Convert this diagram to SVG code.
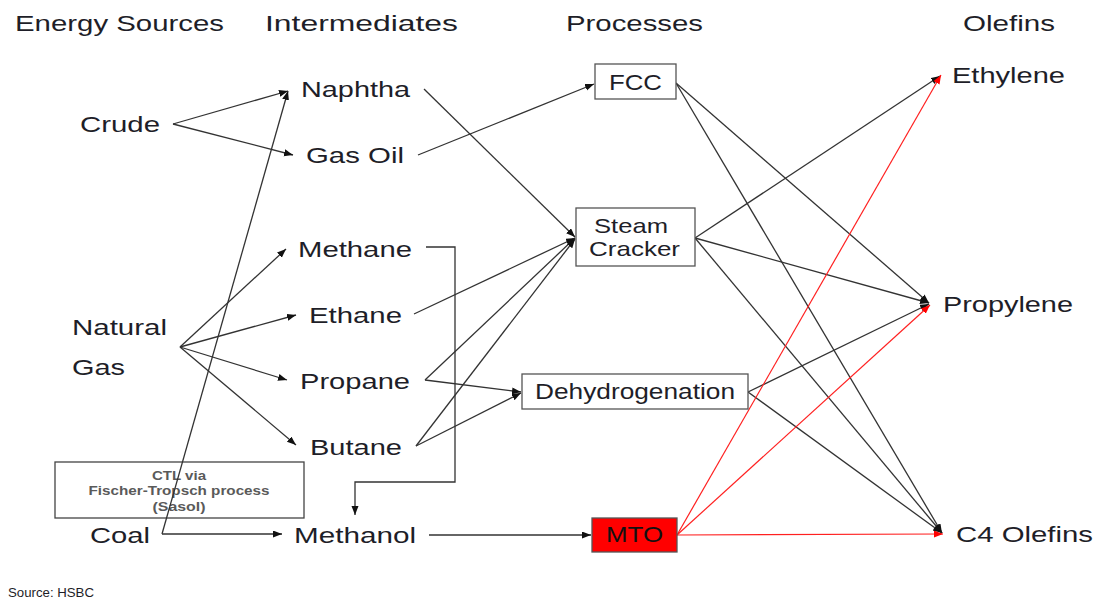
<svg xmlns="http://www.w3.org/2000/svg" width="1119" height="600" viewBox="0 0 1119 600">
<defs>
<marker id="ab" markerUnits="userSpaceOnUse" markerWidth="10" markerHeight="8" refX="9" refY="3.5" orient="auto"><path d="M0,0 L9,3.5 L0,7 z" fill="#111"/></marker>
<marker id="ar" markerUnits="userSpaceOnUse" markerWidth="10" markerHeight="8" refX="9" refY="3.5" orient="auto"><path d="M0,0 L9,3.5 L0,7 z" fill="#ff0000"/></marker>
<style>
text{font-family:"Liberation Sans",Arial,sans-serif;fill:#1e1e28;font-size:22px}
.h{font-size:22px}
.ctl{font-size:13px;font-weight:bold;fill:#5a5a5a}
.src{font-size:13px}
.box{fill:#fff;stroke:#555;stroke-width:1.3}
.mto{fill:#ff0000;stroke:#555;stroke-width:1.3}
.c{fill:none;stroke:#333;stroke-width:1.3;marker-end:url(#ab)}
.r{fill:none;stroke:#ff2020;stroke-width:1.2;marker-end:url(#ar)}
</style>
</defs>
<rect width="1119" height="600" fill="#fff"/>

<g id="headers">
<text class="h" x="15" y="31" textLength="209" lengthAdjust="spacingAndGlyphs">Energy Sources</text>
<text class="h" x="265" y="31" textLength="193" lengthAdjust="spacingAndGlyphs">Intermediates</text>
<text class="h" x="566" y="31" textLength="137" lengthAdjust="spacingAndGlyphs">Processes</text>
<text class="h" x="963" y="31" textLength="92" lengthAdjust="spacingAndGlyphs">Olefins</text>
</g>

<g id="ctl">
<rect x="55" y="462" width="249" height="56" fill="none" stroke="#444" stroke-width="1.3"/>
<text class="ctl" x="179" y="480" text-anchor="middle" textLength="54" lengthAdjust="spacingAndGlyphs">CTL via</text>
<text class="ctl" x="179" y="495" text-anchor="middle" textLength="181" lengthAdjust="spacingAndGlyphs">Fischer-Tropsch process</text>
<text class="ctl" x="179" y="511" text-anchor="middle" textLength="53" lengthAdjust="spacingAndGlyphs">(Sasol)</text>
</g>

<g id="connectors">
<polyline class="c" points="173,124 288,91"/>
<polyline class="c" points="173,124 293,155"/>
<polyline class="c" points="162,534 288,91"/>
<polyline class="c" points="162,534 282,534"/>
<polyline class="c" points="180,347 286,249"/>
<polyline class="c" points="180,347 296,315"/>
<polyline class="c" points="180,347 287,380"/>
<polyline class="c" points="180,347 296,445"/>
<polyline class="c" points="426,247 455,247 455,482 355,482 355,515"/>
<polyline class="c" points="418,155 594,84"/>
<polyline class="c" points="424,89 575,237"/>
<polyline class="c" points="414,314 575,238"/>
<polyline class="c" points="425,380 575,238"/>
<polyline class="c" points="425,380 521,392"/>
<polyline class="c" points="416,446 575,239"/>
<polyline class="c" points="416,446 521,393"/>
<polyline class="c" points="429,535 591,535"/>
<polyline class="c" points="676,83 929,303"/>
<polyline class="c" points="676,83 942,533"/>
<polyline class="c" points="695,238 940,76"/>
<polyline class="c" points="695,238 929,303"/>
<polyline class="c" points="695,238 942,533"/>
<polyline class="c" points="748,392 929,304"/>
<polyline class="c" points="748,392 942,533"/>
<polyline class="r" points="677,535 941,75"/>
<polyline class="r" points="677,535 930,305"/>
<polyline class="r" points="677,535 943,534"/>
</g>

<g id="crude"><text x="80" y="132" textLength="80" lengthAdjust="spacingAndGlyphs">Crude</text></g>
<g id="natural-gas">
<text x="72" y="335" textLength="95" lengthAdjust="spacingAndGlyphs">Natural</text>
<text x="72" y="375" textLength="53" lengthAdjust="spacingAndGlyphs">Gas</text>
</g>
<g id="coal"><text x="90" y="543" textLength="60" lengthAdjust="spacingAndGlyphs">Coal</text></g>

<g id="naphtha"><text x="301" y="97" textLength="109" lengthAdjust="spacingAndGlyphs">Naphtha</text></g>
<g id="gas-oil"><text x="306" y="163" textLength="98" lengthAdjust="spacingAndGlyphs">Gas Oil</text></g>
<g id="methane"><text x="298" y="257" textLength="114" lengthAdjust="spacingAndGlyphs">Methane</text></g>
<g id="ethane"><text x="309" y="323" textLength="93" lengthAdjust="spacingAndGlyphs">Ethane</text></g>
<g id="propane"><text x="300" y="389" textLength="110" lengthAdjust="spacingAndGlyphs">Propane</text></g>
<g id="butane"><text x="310" y="455" textLength="92" lengthAdjust="spacingAndGlyphs">Butane</text></g>
<g id="methanol"><text x="294" y="543" textLength="122" lengthAdjust="spacingAndGlyphs">Methanol</text></g>

<g id="fcc">
<rect class="box" x="595" y="64" width="81" height="35"/>
<text x="609" y="90" textLength="53" lengthAdjust="spacingAndGlyphs">FCC</text>
</g>
<g id="steam-cracker">
<rect class="box" x="576" y="208" width="119" height="58"/>
<text x="594" y="233" textLength="74" lengthAdjust="spacingAndGlyphs" style="font-size:21px">Steam</text>
<text x="589" y="256" textLength="91" lengthAdjust="spacingAndGlyphs" style="font-size:21px">Cracker</text>
</g>
<g id="dehydrogenation">
<rect class="box" x="522" y="374" width="226" height="35"/>
<text x="535" y="399" textLength="200" lengthAdjust="spacingAndGlyphs">Dehydrogenation</text>
</g>
<g id="mto">
<rect class="mto" x="592" y="518" width="85" height="34"/>
<text x="606" y="542" textLength="57" lengthAdjust="spacingAndGlyphs" style="fill:#111">MTO</text>
</g>

<g id="ethylene"><text x="952" y="83" textLength="113" lengthAdjust="spacingAndGlyphs">Ethylene</text></g>
<g id="propylene"><text x="943" y="312" textLength="130" lengthAdjust="spacingAndGlyphs">Propylene</text></g>
<g id="c4-olefins"><text x="956" y="542" textLength="137" lengthAdjust="spacingAndGlyphs">C4 Olefins</text></g>

<g id="source"><text class="src" x="8" y="597" textLength="86" lengthAdjust="spacingAndGlyphs">Source: HSBC</text></g>
</svg>
